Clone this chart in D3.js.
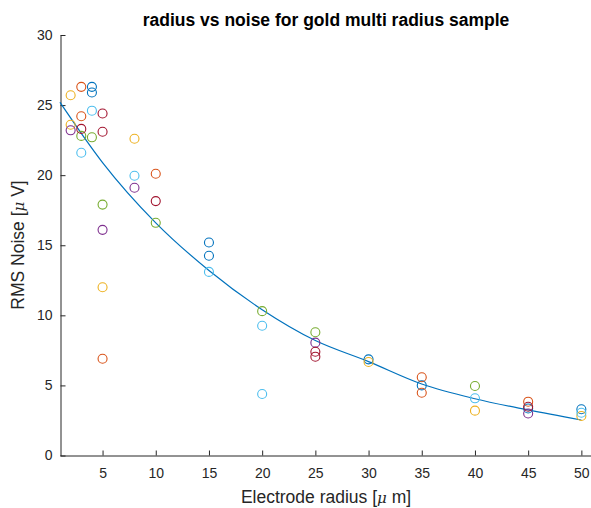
<!DOCTYPE html>
<meta charset="utf-8" />
<style>
  body { margin: 0; background: #fff; }
  svg { font-family: "Liberation Sans", Arial, Helvetica, sans-serif; }
  .tick text { font-size: 14px; fill: #262626; }
  .tick line, .domain { stroke: #262626; }
  .title { font-size: 17.5px; font-weight: bold; fill: #000; }
  .label { font-size: 17.5px; fill: #262626; }
</style>
<body>
<script src="https://d3js.org/d3.v7.min.js"></script>
<script>
  // measured samples, one array per colour in the plot
  var blue = [[4, 26.3], [4, 25.9], [15, 15.2], [15, 14.25], [30, 6.86], [35, 5.0], [45, 3.35], [50, 3.3]];
  var orange = [[3, 26.3], [3, 24.2], [10, 20.1], [5, 6.9], [35, 5.58], [35, 4.48], [45, 3.84]];
  var yellow = [[2, 25.7], [2, 23.6], [8, 22.6], [5, 12.0], [30, 6.67], [40, 3.2], [50, 2.82]];
  var purple = [[2, 23.2], [8, 19.1], [5, 16.1], [25, 8.05], [45, 3.0]];
  var green = [[3, 22.8], [4, 22.7], [5, 17.9], [10, 16.6], [20, 10.3], [25, 8.79], [40, 4.96]];
  var lightblue = [[4, 24.6], [3, 21.6], [8, 19.96], [15, 13.1], [20, 9.26], [20, 4.39], [40, 4.08], [50, 3.05]];
  var darkred = [[5, 24.4], [5, 23.1], [3, 23.3], [10, 18.15], [25, 7.4], [25, 7.05], [45, 3.48]];

  var seriesColors = ['#0072BD', '#D95319', '#EDB120', '#7E2F8E', '#77AC30', '#4DBEEE', '#A2142F'];
  var series = [blue, orange, yellow, purple, green, lightblue, darkred];

  // fitted curve
  var fitX = [1, 5, 10, 15, 20, 25, 30, 35, 40, 45, 50];
  var fitY = [25.2, 20.9, 16.6, 13.2, 10.4, 8.2, 6.7, 5.1, 4.05, 3.25, 2.53];

  var xTicks = [5, 10, 15, 20, 25, 30, 35, 40, 45, 50];
  var yTicks = [0, 5, 10, 15, 20, 25, 30];

  var width = 591, height = 508;
  var x = d3.scaleLinear().domain([1, 51]).range([60, 592]);
  var y = d3.scaleLinear().domain([0, 30]).range([455.5, 35]);

  var svg = d3.select('body').append('svg')
    .attr('width', width)
    .attr('height', height);

  svg.append('g')
    .attr('transform', 'translate(0,455.5)')
    .call(d3.axisBottom(x).tickValues(xTicks).tickSizeInner(-5).tickSizeOuter(0).tickPadding(13))
    .call(function (g) { g.selectAll('text').attr('dy', '0.71em'); });

  svg.append('g')
    .attr('transform', 'translate(60.5,0)')
    .call(d3.axisLeft(y).tickValues(yTicks).tickSizeInner(-5).tickSizeOuter(0).tickPadding(8));

  // fit line
  var line = d3.line()
    .x(function (d) { return x(d[0]); })
    .y(function (d) { return y(d[1]); })
    .curve(d3.curveMonotoneX);

  svg.append('path')
    .datum(fitX.map(function (v, i) { return [v, fitY[i]]; }))
    .attr('fill', 'none')
    .attr('stroke', '#0072BD')
    .attr('stroke-width', 1.2)
    .attr('d', line);

  // scatter circles
  series.forEach(function (s, i) {
    svg.append('g')
      .selectAll('circle')
      .data(s)
      .enter()
      .append('circle')
      .attr('cx', function (d) { return x(d[0]); })
      .attr('cy', function (d) { return y(d[1]); })
      .attr('r', 4.5)
      .attr('fill', 'none')
      .attr('stroke', seriesColors[i])
      .attr('stroke-width', 1.1);
  });

  svg.append('text')
    .attr('class', 'title')
    .attr('x', 326)
    .attr('y', 26)
    .attr('text-anchor', 'middle')
    .text('radius vs noise for gold multi radius sample');

  var xl = svg.append('text')
    .attr('class', 'label')
    .attr('x', 326)
    .attr('y', 503)
    .attr('text-anchor', 'middle');
  xl.append('tspan').text('Electrode radius [');
  xl.append('tspan').attr('font-style', 'italic').attr('font-family', 'DejaVu Serif, serif').attr('font-size', 15).text('μ');
  xl.append('tspan').text(' m]');

  var yl = svg.append('text')
    .attr('class', 'label')
    .attr('transform', 'translate(24,245) rotate(-90)')
    .attr('text-anchor', 'middle');
  yl.append('tspan').text('RMS Noise [');
  yl.append('tspan').attr('font-style', 'italic').attr('font-family', 'DejaVu Serif, serif').attr('font-size', 15).text('μ');
  yl.append('tspan').text(' V]');
</script>
</body>
